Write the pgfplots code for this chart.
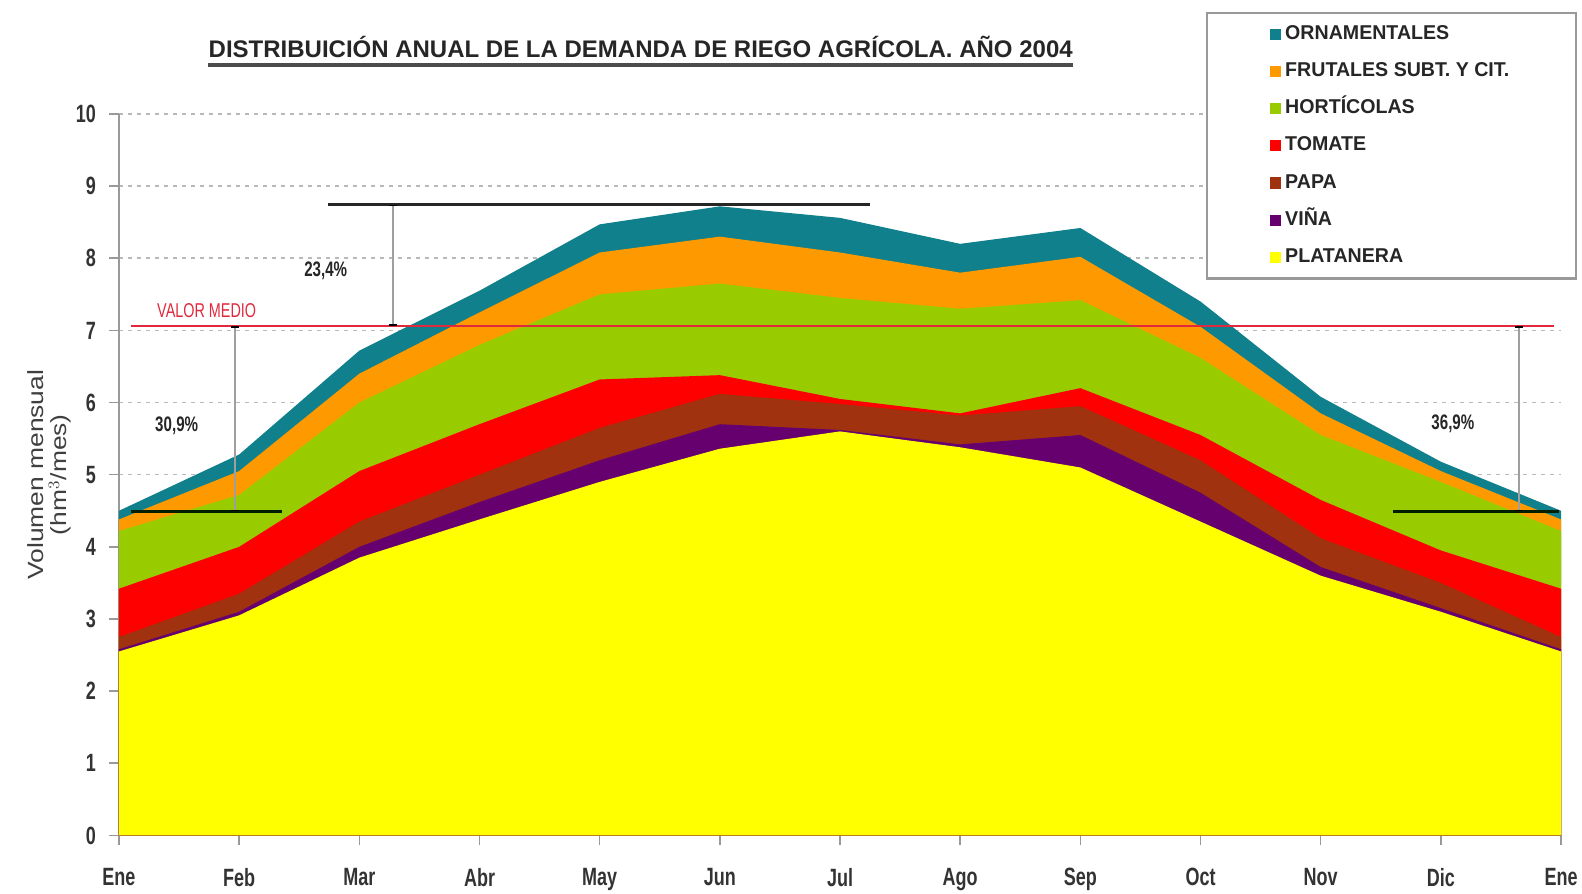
\documentclass[border=0pt]{standalone}
\usepackage{fontspec}
\setmainfont{Liberation Sans}
\newfontfamily\narrowfont[FakeStretch=0.72]{Liberation Sans}
\newfontfamily\legfont[FakeStretch=0.98]{Liberation Sans}
\newfontfamily\titlefont[FakeStretch=1.0]{Liberation Sans}
\newfontfamily\labfont[FakeStretch=1.2]{Liberation Sans}
\usepackage{pgfplots}
\usepackage{pgfplotstable}
\pgfplotsset{compat=1.18}
\usetikzlibrary{arrows.meta}
\definecolor{cTeal}{RGB}{16,128,140}
\definecolor{cOrange}{RGB}{255,153,0}
\definecolor{cGreen}{RGB}{153,204,0}
\definecolor{cRed}{RGB}{255,0,0}
\definecolor{cBrown}{RGB}{160,50,15}
\definecolor{cPurple}{RGB}{102,0,110}
\definecolor{cYellow}{RGB}{255,255,0}
\definecolor{cMean}{RGB}{225,40,60}

\pgfplotstableread{
x  yel  pur  bro  red  gre  ora  tea
0  2.55 2.58 2.75 3.42 4.22 4.38 4.50
1  3.05 3.10 3.35 4.00 4.72 5.05 5.28
2  3.85 4.00 4.35 5.05 6.00 6.40 6.72
3  4.38 4.62 5.00 5.70 6.80 7.25 7.55
4  4.90 5.20 5.65 6.32 7.50 8.08 8.47
5  5.36 5.70 6.12 6.38 7.65 8.30 8.72
6  5.60 5.62 5.98 6.05 7.45 8.08 8.56
7  5.38 5.42 5.82 5.85 7.30 7.80 8.20
8  5.10 5.55 5.95 6.20 7.42 8.02 8.42
9  4.35 4.75 5.20 5.55 6.62 7.05 7.40
10 3.60 3.72 4.12 4.65 5.55 5.85 6.08
11 3.10 3.15 3.50 3.95 4.90 5.05 5.18
12 2.55 2.58 2.75 3.42 4.22 4.38 4.50
}\data

\begin{document}
\begin{tikzpicture}
\useasboundingbox (-59.5pt,-28.8pt) rectangle (731.5pt,417.7pt);
\begin{axis}[
  scale only axis,
  clip=false,
  width=721pt, height=360.7pt,
  xmin=0, xmax=12, ymin=0, ymax=10,
  axis lines=left,
  axis line style={-, gray!80, line width=1pt},
  x axis line style={draw=olive!50!gray},
  xtick={0,...,12},
  xticklabels={Ene,Feb,Mar,Abr,May,Jun,Jul,Ago,Sep,Oct,Nov,Dic,Ene},
  ytick={0,...,10},
  tick align=outside,
  major tick length=5pt,
  tick style={gray!80, line width=0.8pt},
  /pgf/number format/assume math mode=true,
  ticklabel style={font=\narrowfont\bfseries\fontsize{12.5}{13}\selectfont, text=black!80},
  xticklabel style={yshift=-8pt},
  yticklabel style={xshift=-3pt},
  ymajorgrids=true,
  major grid style={gray!55, line width=0.8pt, dash pattern=on 2pt off 2.5pt},
  ylabel={Volumen mensual\\(hm$^3$/mes)},
  ylabel style={at={(axis description cs:-0.048,0.5)}, anchor=center, align=center,
     font=\labfont\fontsize{11}{11.5}\selectfont, text=black!75},
  legend style={at={(axis description cs:0.7537,1.1413)}, anchor=north west,
     draw=gray!80, line width=1.2pt, fill=white, inner xsep=31.5pt, inner ysep=4pt,
     font=\legfont\bfseries\fontsize{10}{10}\selectfont, text=black!85,
     row sep=5.6pt,
     nodes={text height=7pt, text depth=2pt}},
  legend cell align=left,
  legend image code/.code={\fill[#1,draw=none] (0pt,-2.8pt) rectangle (5.6pt,2.8pt);},
]
\addplot[fill=cTeal, draw=none] table[x=x,y=tea]{\data} \closedcycle;
\addlegendentry{ORNAMENTALES}
\addplot[fill=cOrange, draw=none] table[x=x,y=ora]{\data} \closedcycle;
\addlegendentry{FRUTALES SUBT. Y CIT.}
\addplot[fill=cGreen, draw=none] table[x=x,y=gre]{\data} \closedcycle;
\addlegendentry{HORTÍCOLAS}
\addplot[fill=cRed, draw=none] table[x=x,y=red]{\data} \closedcycle;
\addlegendentry{TOMATE}
\addplot[fill=cBrown, draw=none] table[x=x,y=bro]{\data} \closedcycle;
\addlegendentry{PAPA}
\addplot[fill=cPurple, draw=none] table[x=x,y=pur]{\data} \closedcycle;
\addlegendentry{VIÑA}
\addplot[fill=cYellow, draw=none] table[x=x,y=yel]{\data} \closedcycle;
\addlegendentry{PLATANERA}

% mean line
\addplot[cMean, line width=1.1pt, forget plot] coordinates {(0.1,7.06) (11.94,7.06)};
% black range bars
\addplot[black!85, line width=1.6pt, forget plot] coordinates {(1.74,8.74) (6.25,8.74)};
\addplot[black!80!green!60!black, line width=1.6pt, forget plot] coordinates {(0.1,4.49) (1.36,4.49)};
\addplot[black!80!green!60!black, line width=1.6pt, forget plot] coordinates {(10.6,4.49) (11.98,4.49)};
% vertical markers
\draw[gray!75, line width=0.8pt, {Bar[width=4pt,black]}-{Bar[width=4pt,black]}] (axis cs:2.28,8.74) -- (axis cs:2.28,7.06);
\draw[gray!75, line width=0.8pt, {Bar[width=4pt,black]}-{Bar[width=4pt,black]}] (axis cs:0.966,7.06) -- (axis cs:0.966,4.49);
\draw[gray!75, line width=0.8pt, {Bar[width=4pt,black]}-{Bar[width=4pt,black]}] (axis cs:11.65,7.06) -- (axis cs:11.65,4.49);
% labels
\node[font=\narrowfont\bfseries\fontsize{10.5}{10.5}\selectfont, text=black!85] at (axis cs:1.72,7.83) {23,4\%};
\node[font=\narrowfont\bfseries\fontsize{10.5}{10.5}\selectfont, text=black!85] at (axis cs:0.48,5.68) {30,9\%};
\node[font=\narrowfont\bfseries\fontsize{10.5}{10.5}\selectfont, text=black!85] at (axis cs:11.1,5.71) {36,9\%};
\node[font=\narrowfont\fontsize{10}{10}\selectfont, text=cMean] at (axis cs:0.73,7.27) {VALOR MEDIO};
% title
\node[name=ttl, inner sep=0pt, font=\titlefont\bfseries\fontsize{12}{12}\selectfont, text=black!85]
  at (axis description cs:0.3618,1.0923) {DISTRIBUICIÓN ANUAL DE LA DEMANDA DE RIEGO AGRÍCOLA. AÑO 2004};
\draw[gray!60!black, line width=1.8pt] ([yshift=-3.5pt]ttl.base west) -- ([yshift=-3.5pt]ttl.base east);
\end{axis}
\end{tikzpicture}
\end{document}
